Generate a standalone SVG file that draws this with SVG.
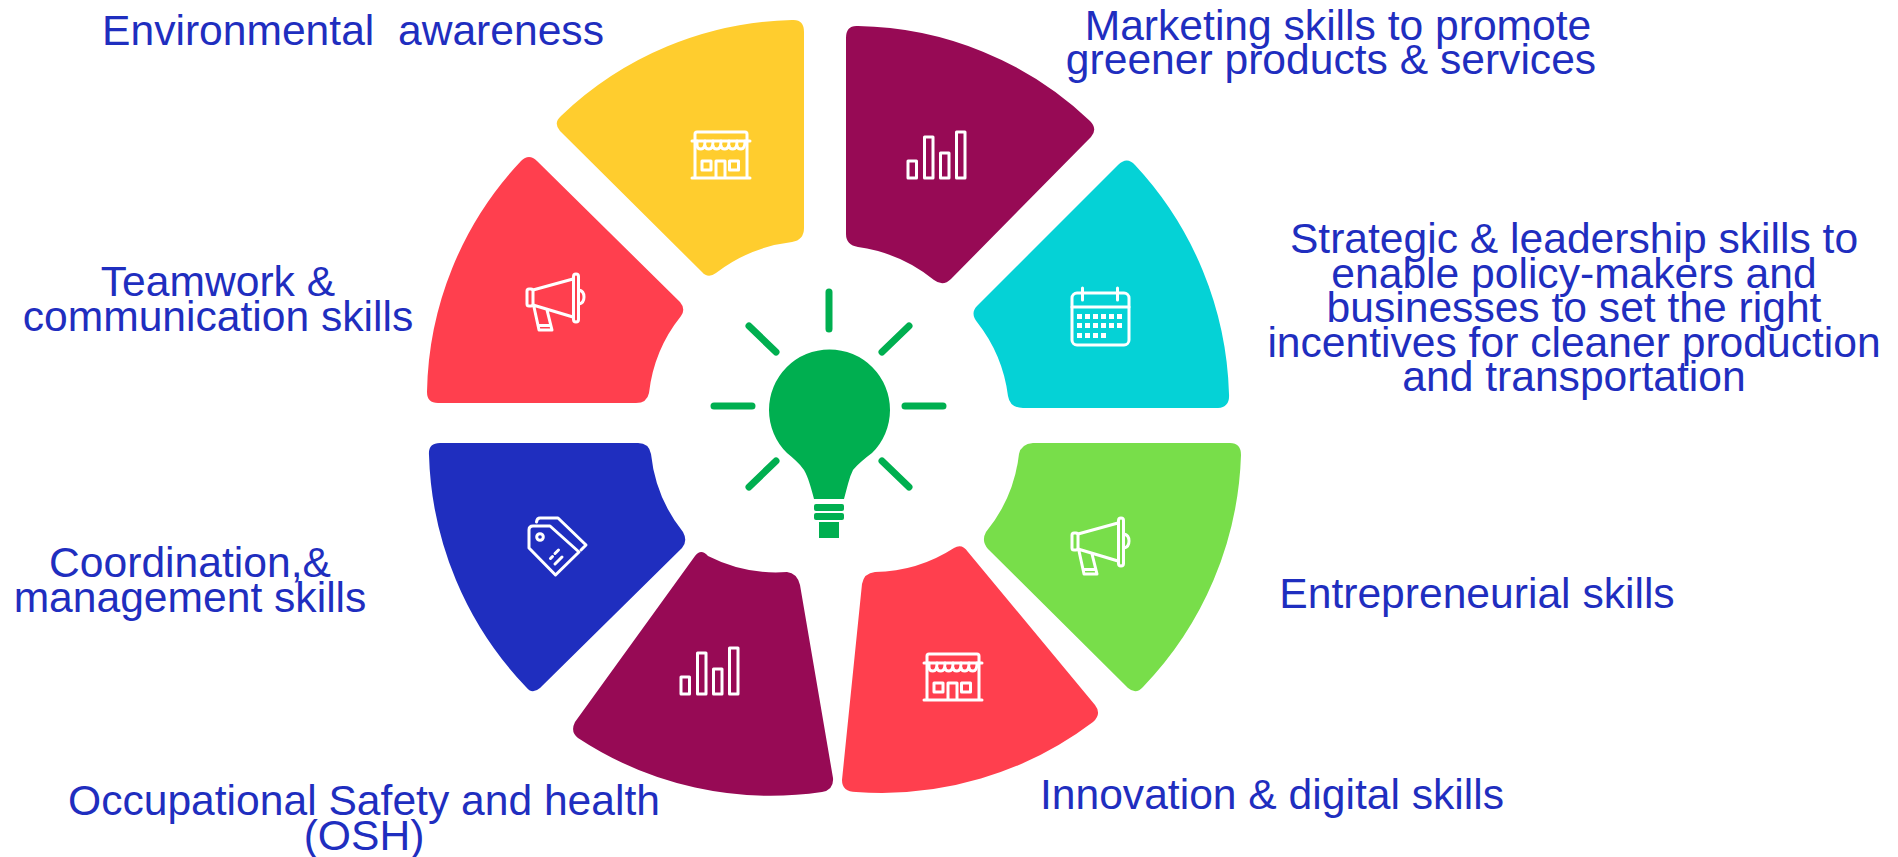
<svg xmlns="http://www.w3.org/2000/svg" width="1898" height="857" viewBox="0 0 1898 857">
<style>
.lbl{font-family:"Liberation Sans",Arial,sans-serif;font-size:42.6px;fill:#1f2ebf;text-anchor:middle;white-space:pre}
.ic{fill:none;stroke:#fff;stroke-width:3;stroke-linejoin:round;stroke-linecap:round}
.ray{stroke:#00af50;stroke-width:7;stroke-linecap:round;fill:none}
</style>
<defs>
<g id="shop" class="ic"><path d="M3,11V3Q3,1 5,1H53Q55,1 55,3V11M0,10H58M3,11V47M55,11V47M0,47H58M24,47V30H33V47M10,30H19V39H10ZM37.500,30H46.500V39H37.500Z"/><path d="M5,10V14Q5,18 9,18Q13,18 13,10M13,14Q13,18 17,18Q21,18 21,10M21,14Q21,18 25,18Q29,18 29,10M29,14Q29,18 33,18Q37,18 37,10M37,14Q37,18 41,18Q45,18 45,10M45,14Q45,18 49,18Q53,18 53,10"/></g>
<g id="chart" class="ic"><rect x="1" y="30" width="8.500" height="17"/><rect x="17.500" y="6" width="8.500" height="41"/><rect x="33.500" y="22" width="8.500" height="25"/><rect x="49.500" y="1" width="8.500" height="46"/></g>
<g id="mega" class="ic"><rect x="1" y="16" width="6" height="17" rx="2"/><rect x="47.500" y="1" width="5" height="48" rx="2.500"/><path d="M7,17L47,6M7,32L47,44M53,17Q58,18 58,24Q58,30 53,31M8,34L13,57H26L21,37M12.500,52.500H24.500"/></g>
<g id="cal" class="ic"><rect x="1" y="6" width="57" height="52" rx="5"/><path d="M1,20H58M11.500,1V13M46.500,1V13"/><g fill="#fff" stroke="none"><path d="M6,27h5v5h-5zM14,27h5v5h-5zM22,27h5v5h-5zM30,27h5v5h-5zM38,27h5v5h-5zM46,27h5v5h-5zM6,36h5v5h-5zM14,36h5v5h-5zM22,36h5v5h-5zM30,36h5v5h-5zM38,36h5v5h-5zM46,36h5v5h-5zM6,46h5v5h-5zM14,46h5v5h-5zM22,46h5v5h-5zM30,46h5v5h-5z"/></g></g>
<g id="tag" class="ic"><path d="M1,31V13Q1,9 5,9H22L51,35L27.500,58Z"/><path d="M8.500,5Q9,1 12,1H30L58,28L53,33"/><circle cx="12" cy="20" r="3.300"/><path d="M30.500,33L27,36.500M24.500,39.500L22.500,41.500M34,40L27,47"/></g>
</defs>
<g id="node-environmental"><path fill="#ffcd2e" d="M792,20Q804,19 804,32L804,228Q804,240 792,242A155,155 0 0 0 716,273Q708,279 702,272L560,131Q553,123 561,116A345,345 0 0 1 792,20Z"/><use href="#shop" x="692" y="131"/><text class="lbl" x="353" y="45">Environmental  awareness</text></g>
<g id="node-marketing"><path fill="#970a55" d="M846,38Q846,25 858,26A345,345 0 0 1 1090,121Q1098,129 1091,137L951,279Q943,287 934,280A155,155 0 0 0 858,247Q846,245 846,234Z"/><use href="#chart" x="907" y="131"/><text class="lbl" x="1338" y="39.500">Marketing skills to promote</text><text class="lbl" x="1331" y="73.500">greener products &amp; services</text></g>
<g id="node-strategic"><path fill="#05d2d6" d="M1118,165Q1127,156 1135,165A350,350 0 0 1 1229,394Q1230,407 1218,408L1023,408Q1010,408 1008,396A150,150 0 0 0 977,322Q970,313 977,306Z"/><use href="#cal" x="1071" y="287"/><text class="lbl" x="1574" y="252.500">Strategic &amp; leadership skills to</text><text class="lbl" x="1574" y="287.500">enable policy-makers and</text><text class="lbl" x="1574" y="322">businesses to set the right</text><text class="lbl" x="1574" y="356.500">incentives for cleaner production</text><text class="lbl" x="1574" y="391">and transportation</text></g>
<g id="node-entrepreneurial"><path fill="#78de4a" d="M1033,443L1230,443Q1241,443 1241,455A350,350 0 0 1 1143,687Q1136,695 1128,688L988,549Q981,541 986,532A150,150 0 0 0 1019,454Q1021,444 1033,443Z"/><use href="#mega" x="1071" y="517"/><text class="lbl" x="1477" y="608">Entrepreneurial skills</text></g>
<g id="node-innovation"><path fill="#ff3f4e" d="M875,572A150,150 0 0 0 954,548Q962,543 968,552L1095,705Q1102,714 1093,722A350,350 0 0 1 856,792Q842,792 842,780L862,584Q864,573 875,572Z"/><use href="#shop" x="924" y="653"/><text class="lbl" x="1272" y="809">Innovation &amp; digital skills</text></g>
<g id="node-osh"><path fill="#970a55" d="M708,556A150,150 0 0 0 787,572Q797,573 800,585L833,778Q834,790 822,792A350,350 0 0 1 578,738Q570,732 575,722L695,556Q701,548 708,556Z"/><use href="#chart" x="680" y="647"/><text class="lbl" x="364" y="815">Occupational Safety and health</text><text class="lbl" x="364" y="850">(OSH)</text></g>
<g id="node-coordination"><path fill="#1f2ebf" d="M440,443L638,443Q649,443 651,454A150,150 0 0 0 683,532Q688,541 682,548L540,688Q532,695 526,687A350,350 0 0 1 429,455Q428,443 440,443Z"/><use href="#tag" x="528" y="517"/><text class="lbl" x="190" y="577">Coordination,&amp;</text><text class="lbl" x="190" y="612">management skills</text></g>
<g id="node-teamwork"><path fill="#ff3f4e" d="M537,161L680,302Q686,309 681,316A150,150 0 0 0 649,393Q647,403 636,403L438,403Q427,403 427,392A345,345 0 0 1 521,161Q529,153 537,161Z"/><use href="#mega" x="526" y="273"/><text class="lbl" x="218" y="296">Teamwork &amp;</text><text class="lbl" x="218" y="331">communication skills</text></g>
<g id="node-bulb"><path fill="#00af50" d="M814,499C811,487 808,477 804,470C799,463 793,458 787,453A60.500,60.500 0 1 1 872,453C865,458 858,464 853,470C849,478 847,488 844,499Z"/><rect fill="#00af50" x="814" y="504" width="30" height="7" rx="2"/><rect fill="#00af50" x="814" y="513" width="30" height="7" rx="2"/><rect fill="#00af50" x="819" y="522" width="20" height="16"/></g>
<g id="connectors"><path class="ray" d="M829,292V329M749,326L776,352M909,326L882,352M714,406H752M905,406H943M776,461L749,487M882,461L909,487"/></g>
</svg>
